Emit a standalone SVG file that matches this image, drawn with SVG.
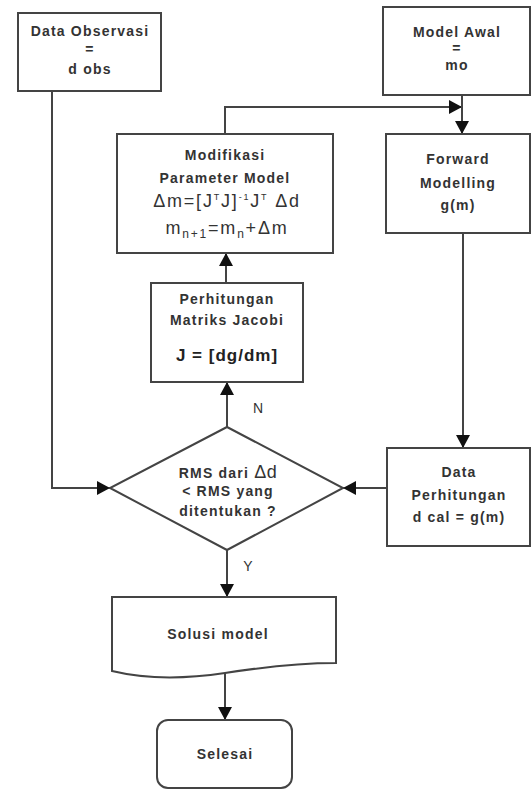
<svg xmlns="http://www.w3.org/2000/svg" width="531" height="790" viewBox="0 0 531 790">
<style>
.box{fill:#fff;stroke:#444;stroke-width:2}
.t{font-family:"Liberation Sans",Arial,sans-serif;font-size:14px;font-weight:bold;fill:#333;letter-spacing:1.2px;text-anchor:middle}
.m{font-family:"Liberation Sans",Arial,sans-serif;font-size:18px;fill:#333;letter-spacing:1.8px;text-anchor:middle}
.mb{font-family:"Liberation Sans",Arial,sans-serif;font-size:17px;font-weight:bold;fill:#222;letter-spacing:1px;text-anchor:middle}
.lbl{font-family:"Liberation Sans",Arial,sans-serif;font-size:14px;fill:#333;text-anchor:middle}
.c{fill:none;stroke:#444;stroke-width:2}
</style>
<defs>
<marker id="ah" markerUnits="userSpaceOnUse" markerWidth="13" markerHeight="14" refX="13" refY="7" orient="auto">
<path d="M0,0 L13,7 L0,14 z" fill="#111"/>
</marker>
</defs>
<rect width="531" height="790" fill="#fff"/>
<g id="connectors">
<polyline class="c" points="52,91 52,488 110,488" marker-end="url(#ah)"/>
<polyline class="c" points="225,134 225,107 462,107" marker-end="url(#ah)"/>
<line class="c" x1="462" y1="95" x2="462" y2="134" marker-end="url(#ah)"/>
<line class="c" x1="463" y1="233" x2="463" y2="448" marker-end="url(#ah)"/>
<line class="c" x1="387" y1="488" x2="343" y2="488" marker-end="url(#ah)"/>
<line class="c" x1="227" y1="427" x2="227" y2="382" marker-end="url(#ah)"/>
<line class="c" x1="226" y1="283" x2="226" y2="253" marker-end="url(#ah)"/>
<line class="c" x1="227" y1="550" x2="227" y2="597" marker-end="url(#ah)"/>
<line class="c" x1="225" y1="673" x2="225" y2="720" marker-end="url(#ah)"/>
<text class="lbl" x="258" y="413">N</text>
<text class="lbl" x="248" y="571">Y</text>
</g>
<g id="data-observasi">
<rect class="box" x="18" y="13" width="143" height="78"/>
<text class="t" x="90" y="36">Data Observasi</text>
<text class="t" x="90" y="54">=</text>
<text class="t" x="90" y="74">d obs</text>
</g>
<g id="model-awal">
<rect class="box" x="383" y="7" width="147" height="88"/>
<text class="t" x="457" y="37">Model Awal</text>
<text class="t" x="457" y="53">=</text>
<text class="t" x="457" y="70">mo</text>
</g>
<g id="modifikasi">
<rect class="box" x="117" y="134" width="216" height="119"/>
<text class="t" x="225" y="160">Modifikasi</text>
<text class="t" x="225" y="183">Parameter Model</text>
<text class="m" x="227" y="207">Δm=[J<tspan font-size="9" dy="-7">T</tspan><tspan dy="7">J]</tspan><tspan font-size="9" dy="-7">-1</tspan><tspan dy="7">J</tspan><tspan font-size="9" dy="-7">T</tspan><tspan dy="7"> Δd</tspan></text>
<text class="m" x="227" y="234" letter-spacing="2.5">m<tspan font-size="12" dy="4">n+1</tspan><tspan dy="-4">=m</tspan><tspan font-size="12" dy="4">n</tspan><tspan dy="-4">+Δm</tspan></text>
</g>
<g id="forward">
<rect class="box" x="386" y="134" width="144" height="99"/>
<text class="t" x="458" y="164">Forward</text>
<text class="t" x="458" y="188">Modelling</text>
<text class="t" x="458" y="210">g(m)</text>
</g>
<g id="jacobi">
<rect class="box" x="151" y="283" width="152" height="99"/>
<text class="t" x="227" y="304">Perhitungan</text>
<text class="t" x="227" y="325">Matriks Jacobi</text>
<text class="mb" x="227" y="361">J = [dg/dm]</text>
</g>
<g id="decision">
<polygon class="box" points="227,427 343,488 227,550 110,488"/>
<text class="t" x="228" y="478">RMS dari  <tspan font-size="18" font-weight="normal" letter-spacing="0.5">Δd</tspan></text>
<text class="t" x="228" y="496">&lt; RMS yang</text>
<text class="t" x="228" y="516">ditentukan  ?</text>
</g>
<g id="data-perhitungan">
<rect class="box" x="387" y="448" width="143" height="98"/>
<text class="t" x="459" y="477">Data</text>
<text class="t" x="459" y="500">Perhitungan</text>
<text class="t" x="459" y="522">d cal = g(m)</text>
</g>
<g id="solusi">
<path class="box" d="M112,597 H336 V663 C300,663 270,666 225,673 C185,679 145,679 112,671 Z"/>
<text class="t" x="218" y="639">Solusi model</text>
</g>
<g id="selesai">
<rect class="box" x="157" y="720" width="135" height="68" rx="11"/>
<text class="t" x="225" y="759">Selesai</text>
</g>
</svg>
